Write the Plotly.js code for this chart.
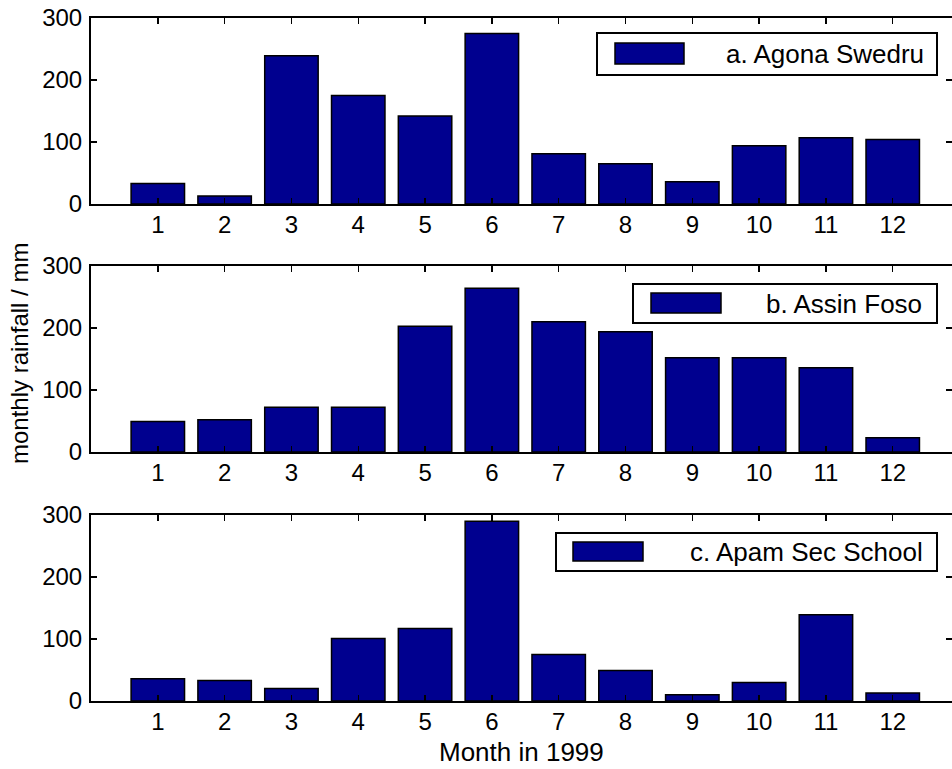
<!DOCTYPE html>
<html>
<head>
<meta charset="utf-8">
<script src="https://cdn.plot.ly/plotly-3.0.1.min.js"></script>
<style>html,body{margin:0;padding:0;background:#fff;}#chart{width:952px;height:769px;}</style>
</head>
<body>
<div id="chart"></div>
<script>
// ---- data ----
const months = [1, 2, 3, 4, 5, 6, 7, 8, 9, 10, 11, 12];
const agonaSwedru = [33, 13, 239, 175, 142, 275, 81, 65, 36, 94, 107, 104];
const assinFoso = [49, 52, 72, 72, 203, 264, 210, 194, 152, 152, 136, 23];
const apamSecSchool = [36, 33, 20, 101, 117, 290, 75, 49, 10, 30, 139, 13];
const stationNames = ['a. Agona Swedru', 'b. Assin Foso', 'c. Apam Sec School'];
const yTicks = [0, 100, 200, 300];
const xTitle = 'Month in 1999';
const yTitle = 'monthly rainfall / mm';

// ---- layout helpers ----
const W = 952, H = 769;
const px = v => v / W;
const py = v => 1 - v / H;
const FONT = 'Liberation Sans, Arial, sans-serif';
const BAR = 'rgb(0,0,143)';
const FS = 24;
const FS2 = 26;

const series = [agonaSwedru, assinFoso, apamSecSchool];
const panels = [
  {top: 18, bottom: 204},
  {top: 266, bottom: 452},
  {top: 515, bottom: 701}
];
// legend boxes (pixel geometry)
const legends = [
  {box: [597, 33, 937, 75], sw: [615, 43, 684, 64], textRight: 926},
  {box: [633, 284, 937, 323], sw: [651, 293, 721, 313], textRight: 924},
  {box: [556, 533, 937, 571], sw: [573, 542, 643, 561], textRight: 925}
];

const traces = [];
const layout = {
  width: W, height: H,
  margin: {l: 0, r: 0, t: 0, b: 0},
  paper_bgcolor: '#fff', plot_bgcolor: '#fff',
  showlegend: false,
  font: {family: FONT, size: FS, color: '#000'},
  shapes: [], annotations: []
};

series.forEach((vals, i) => {
  const k = i === 0 ? '' : String(i + 1);
  traces.push({
    type: 'bar', x: months, y: vals, name: stationNames[i],
    xaxis: 'x' + k, yaxis: 'y' + k, width: 0.8,
    marker: {color: BAR, line: {color: '#000', width: 1.5}},
    hoverinfo: 'x+y'
  });
  const p = panels[i];
  layout['xaxis' + k] = {
    domain: [px(91), 1], anchor: 'y' + k,
    range: [0, 12.887], tickvals: months, ticktext: months.map(String),
    ticks: 'inside', ticklen: 6, tickwidth: 1.5, tickcolor: '#000',
    showline: true, linecolor: '#000', linewidth: 2, mirror: 'ticks',
    showgrid: false, zeroline: false, automargin: false,
    tickfont: {family: FONT, size: FS, color: '#000'},
    ticklabelstandoff: -2
  };
  layout['yaxis' + k] = {
    domain: [py(p.bottom), py(p.top)], anchor: 'x' + k,
    range: [0, 300], tickvals: yTicks,
    ticks: 'inside', ticklen: 6, tickwidth: 1.5, tickcolor: '#000',
    showline: true, linecolor: '#000', linewidth: 2, mirror: 'ticks',
    showgrid: false, zeroline: false, automargin: false,
    tickfont: {family: FONT, size: FS, color: '#000'},
    ticklabelstandoff: 2
  };
  const L = legends[i];
  layout.shapes.push({type: 'rect', xref: 'paper', yref: 'paper',
    x0: px(L.box[0]), x1: px(L.box[2]), y0: py(L.box[3]), y1: py(L.box[1]),
    line: {color: '#000', width: 2}, fillcolor: '#fff', layer: 'above'});
  layout.shapes.push({type: 'rect', xref: 'paper', yref: 'paper',
    x0: px(L.sw[0]), x1: px(L.sw[2]), y0: py(L.sw[3]), y1: py(L.sw[1]),
    line: {color: '#000', width: 1.5}, fillcolor: BAR, layer: 'above'});
  layout.annotations.push({xref: 'paper', yref: 'paper',
    x: px(L.textRight), y: py((L.box[1] + L.box[3]) / 2),
    xanchor: 'right', yanchor: 'middle', showarrow: false,
    text: stationNames[i], font: {family: FONT, size: FS2, color: '#000'}});
});

layout.annotations.push({xref: 'paper', yref: 'paper', x: px(521.5), y: py(752),
  xanchor: 'center', yanchor: 'middle', showarrow: false, text: xTitle,
  font: {family: FONT, size: FS2, color: '#000'}});
layout.annotations.push({xref: 'paper', yref: 'paper', x: px(20), y: py(354),
  xanchor: 'center', yanchor: 'middle', showarrow: false, text: yTitle, textangle: -90,
  font: {family: FONT, size: FS, color: '#000'}});

Plotly.newPlot('chart', traces, layout, {displayModeBar: false, staticPlot: true});
</script>
</body>
</html>
